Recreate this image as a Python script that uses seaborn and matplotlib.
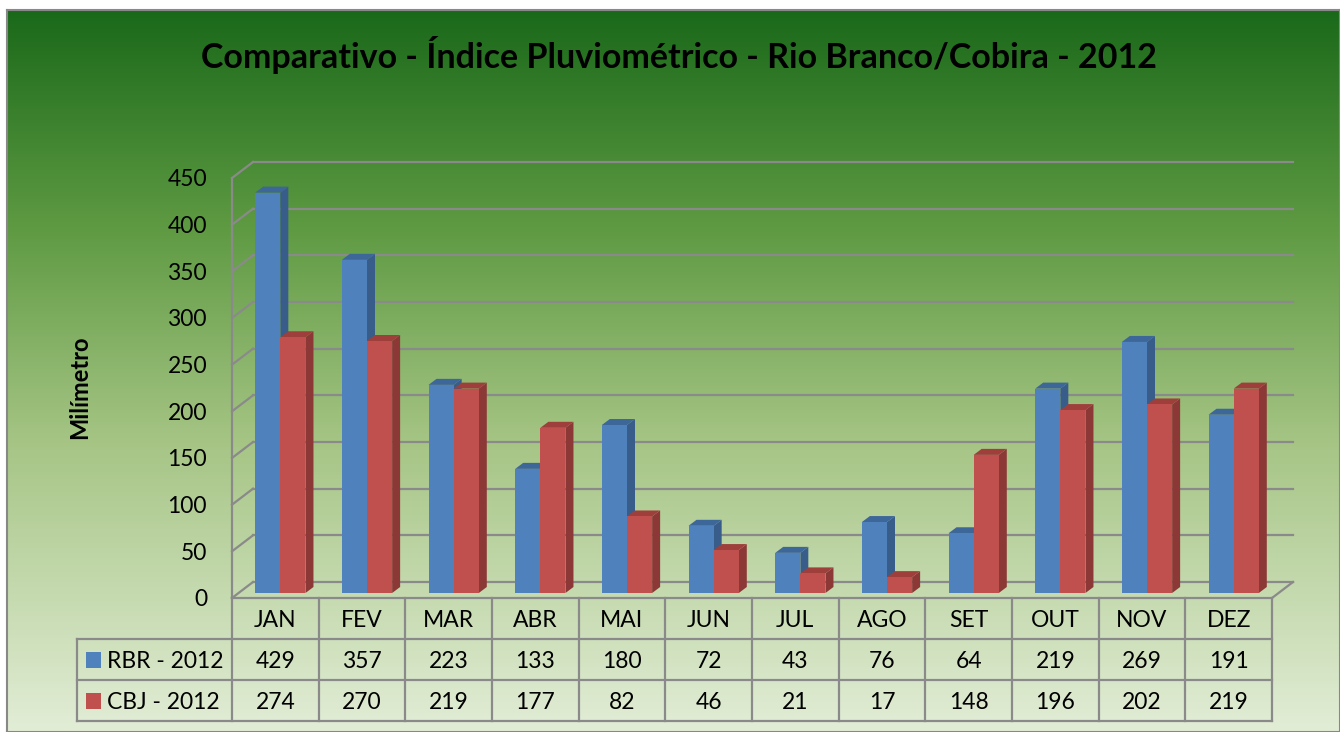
import numpy as np
import pandas as pd
import seaborn as sns
import matplotlib.pyplot as plt
from matplotlib.patches import Polygon, Rectangle
from matplotlib.transforms import offset_copy, blended_transform_factory
from matplotlib.colors import LinearSegmentedColormap, to_rgb

# data
months = ['JAN', 'FEV', 'MAR', 'ABR', 'MAI', 'JUN', 'JUL', 'AGO', 'SET', 'OUT', 'NOV', 'DEZ']
series = ['RBR - 2012', 'CBJ - 2012']
rbr = [429, 357, 223, 133, 180, 72, 43, 76, 64, 219, 269, 191]
cbj = [274, 270, 219, 177, 82, 46, 21, 17, 148, 196, 202, 219]
yticks = [0, 50, 100, 150, 200, 250, 300, 350, 400, 450]

front = {'RBR - 2012': '#4F81BD', 'CBJ - 2012': '#C0504D'}
side = {'RBR - 2012': '#385D8A', 'CBJ - 2012': '#8C3836'}
top = {'RBR - 2012': '#3D6699', 'CBJ - 2012': '#9E3F3C'}

df = pd.DataFrame({'Mes': months * 2,
                   'Serie': [series[0]] * 12 + [series[1]] * 12,
                   'Valor': rbr + cbj})

plt.rcParams['font.family'] = ['Lato', 'DejaVu Sans']

W, H = 1340, 732
fig = plt.figure(figsize=(W / 100, H / 100), dpi=100)
fig.patch.set_facecolor('white')

# gradient background
bg = fig.add_axes([7 / W, 0, 1 - 7 / W, 1 - 10 / H], zorder=-10)
grad = LinearSegmentedColormap.from_list('g', [(0, '#1A691A'), (0.3, '#5E9A42'),
                                               (0.6, '#A6C585'), (1, '#E2EDD6')])
bg.imshow(np.linspace(0, 1, 256).reshape(-1, 1), aspect='auto', cmap=grad,
          extent=[0, 1, 0, 1])
bg.set_xticks([])
bg.set_yticks([])
for s in bg.spines.values():
    s.set_color('#888888')
    s.set_linewidth(1.5)

# main axes (front plane)
ax = fig.add_axes([232 / W, 134 / H, 1040 / W, 420 / H])
ax.patch.set_alpha(0)
sns.barplot(data=df, x='Mes', y='Valor', hue='Serie', hue_order=series,
            palette=front, saturation=1, width=0.58, ax=ax, legend=False)
ax.set_xlim(-0.5, 11.5)
ax.set_ylim(0, 450)
for s in ax.spines.values():
    s.set_visible(False)
ax.set_xticks([])
ax.set_yticks(yticks)
ax.tick_params(axis='y', length=0, pad=18, labelsize=16.5)
ax.set_xlabel('')
ax.set_ylabel('')

pxx = 1040 / 12.0
pxy = 420 / 450.0
gc = '#8A8A8A'

# back walls / grid
dxp, dyp = 21 / pxx, 16 / pxy
for v in yticks:
    ax.plot([-0.5 + dxp, 11.5 + dxp], [v + dyp, v + dyp], color=gc, lw=1.6, zorder=0, clip_on=False)
    ax.plot([-0.5, -0.5 + dxp], [v, v + dyp], color=gc, lw=1.6, zorder=0, clip_on=False)
ax.plot([-0.5, -0.5], [0, 450], color=gc, lw=1.6, zorder=0, clip_on=False)
ax.plot([11.5, 11.5 + dxp], [0, dyp], color=gc, lw=1.6, zorder=0, clip_on=False)

# 3d look for bars
off = offset_copy(ax.transData, fig=fig, x=5, y=5, units='dots')
bdx, bdy = 8 / pxx, 6 / pxy
for p in ax.patches:
    col = p.get_facecolor()
    name = 'RBR - 2012' if np.allclose(col[:3], to_rgb(front['RBR - 2012'])) else 'CBJ - 2012'
    z = 2 if name == 'RBR - 2012' else 3
    p.set_transform(off)
    p.set_zorder(z + 0.2)
    p.set_edgecolor('none')
    x0, w, h = p.get_x(), p.get_width(), p.get_height()
    x1 = x0 + w
    ax.add_patch(Polygon([(x1, 0), (x1 + bdx, bdy), (x1 + bdx, h + bdy), (x1, h)],
                         closed=True, facecolor=side[name], edgecolor='none',
                         transform=off, zorder=z, clip_on=False))
    ax.add_patch(Polygon([(x0, h), (x1, h), (x1 + bdx, h + bdy), (x0 + bdx, h + bdy)],
                         closed=True, facecolor=top[name], edgecolor='none',
                         transform=off, zorder=z + 0.1, clip_on=False))

# data table
tr = blended_transform_factory(ax.transData, ax.transAxes)
rows = [0, -41 / 420, -82 / 420, -123 / 420]
xl = -0.5 - 155 / pxx
for i in range(13):
    ax.plot([i - 0.5, i - 0.5], [rows[0], rows[3]], color=gc, lw=1.6, transform=tr, clip_on=False)
ax.plot([xl, xl], [rows[1], rows[3]], color=gc, lw=1.6, transform=tr, clip_on=False)
ax.plot([-0.5, 11.5], [rows[0], rows[0]], color=gc, lw=1.6, transform=tr, clip_on=False)
for r in rows[1:]:
    ax.plot([xl, 11.5], [r, r], color=gc, lw=1.6, transform=tr, clip_on=False)

fs = 16.5
for i, m in enumerate(months):
    ax.text(i, (rows[0] + rows[1]) / 2 - 0.004, m, ha='center', va='center', fontsize=fs, transform=tr)
    ax.text(i, (rows[1] + rows[2]) / 2 - 0.004, str(rbr[i]), ha='center', va='center', fontsize=fs, transform=tr)
    ax.text(i, (rows[2] + rows[3]) / 2 - 0.004, str(cbj[i]), ha='center', va='center', fontsize=fs, transform=tr)

for k, name in enumerate(series):
    yc = (rows[k + 1] + rows[k + 2]) / 2
    ax.add_patch(Rectangle((xl + 9 / pxx, yc - 8 / 420), 15 / pxx, 16 / 420, facecolor=front[name],
                           edgecolor='none', transform=tr, clip_on=False))
    ax.text(xl + 30 / pxx, yc - 0.004, name, ha='left', va='center', fontsize=fs, transform=tr)

fig.text(80 / W, 1 - 387 / H, 'Milímetro', rotation=90, ha='center', va='center',
         fontsize=17, fontweight='bold')
fig.text(679 / W, 1 - 55 / H, 'Comparativo - Índice Pluviométrico - Rio Branco/Cobira - 2012',
         ha='center', va='center', fontsize=24.5, fontweight='bold')

fig.savefig('out.png', dpi=100)
